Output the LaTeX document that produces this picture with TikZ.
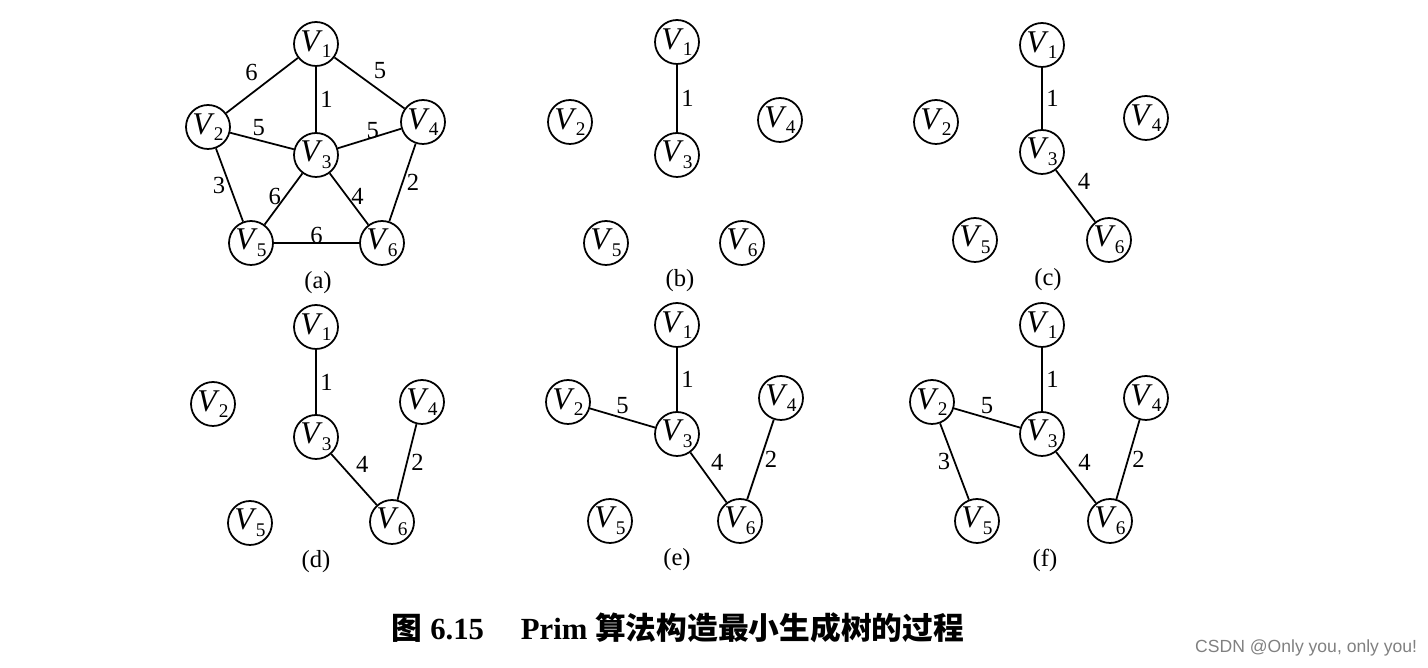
\documentclass[tikz,border=0pt]{standalone}
\usepackage{fontspec}
\setmainfont{Liberation Serif}
\newfontfamily\cjk{Noto Sans CJK SC}
\newfontfamily\wmark{Liberation Sans}
\usetikzlibrary{positioning}
\newcommand{\vname}[1]{\textit{V}\kern-0.5pt\raisebox{-0.45ex}{\fontsize{11}{11}\selectfont #1}}
\tikzset{vtx/.style={circle,draw=black,line width=1pt,minimum size=0.88cm,inner sep=0pt,font=\fontsize{18}{18}\selectfont}}
\tikzset{wt/.style={font=\fontsize{14}{14}\selectfont,inner sep=2pt}}
\tikzset{sublabel/.style={font=\fontsize{14}{14}\selectfont}}
\begin{document}
\begin{tikzpicture}[x=0.02cm,y=-0.02cm,line width=1pt]
\useasboundingbox (0,0) rectangle (1428,668);
% (a) the whole graph
\node (a1) [vtx] at (316,44) {\vname{1}};
\node (a2) [vtx] at (208,127) {\vname{2}};
\node (a3) [vtx] at (316,155) {\vname{3}};
\node (a4) [vtx] at (423,122) {\vname{4}};
\node (a5) [vtx] at (251,243) {\vname{5}};
\node (a6) [vtx] at (382,243) {\vname{6}};
\path (a1) edge node[wt,above left] {6} (a2);
\path (a1) edge node[wt,above right] {5} (a4);
\path (a1) edge node[wt,right] {1} (a3);
\path (a2) edge node[wt,above,pos=0.45] {5} (a3);
\path (a3) edge node[wt,above,pos=0.55,yshift=-3pt] {5} (a4);
\path (a2) edge node[wt,left] {3} (a5);
\path (a3) edge node[wt,left,pos=0.45] {6} (a5);
\path (a3) edge node[wt,right,pos=0.45] {4} (a6);
\path (a4) edge node[wt,right] {2} (a6);
\path (a5) edge node[wt,above,yshift=-3pt] {6} (a6);
\node (capa) [sublabel] at (318,283) {(a)};
%
% (b)
\node (b1) [vtx] at (677,42) {\vname{1}};
\node (b2) [vtx] at (570,122) {\vname{2}};
\node (b3) [vtx] at (677,155) {\vname{3}};
\node (b4) [vtx] at (780,120) {\vname{4}};
\node (b5) [vtx] at (606,243) {\vname{5}};
\node (b6) [vtx] at (742,243) {\vname{6}};
\path (b1) edge node[wt,right] {1} (b3);
\node (capb) [sublabel] at (680,281) {(b)};
%
% (c)
\node (c1) [vtx] at (1042,45) {\vname{1}};
\node (c2) [vtx] at (936,122) {\vname{2}};
\node (c3) [vtx] at (1042,152) {\vname{3}};
\node (c4) [vtx] at (1146,118) {\vname{4}};
\node (c5) [vtx] at (975,240) {\vname{5}};
\node (c6) [vtx] at (1109,240) {\vname{6}};
\path (c1) edge node[wt,right] {1} (c3);
\path (c3) edge node[wt,above right,pos=0.45] {4} (c6);
\node (capc) [sublabel] at (1048,280) {(c)};
%
% (d)
\node (d1) [vtx] at (316,327) {\vname{1}};
\node (d2) [vtx] at (213,404) {\vname{2}};
\node (d3) [vtx] at (316,437) {\vname{3}};
\node (d4) [vtx] at (422,402) {\vname{4}};
\node (d5) [vtx] at (250,523) {\vname{5}};
\node (d6) [vtx] at (392,522) {\vname{6}};
\path (d1) edge node[wt,right] {1} (d3);
\path (d3) edge node[wt,above right,pos=0.45] {4} (d6);
\path (d4) edge node[wt,right] {2} (d6);
\node (capd) [sublabel] at (316,562) {(d)};
%
% (e)
\node (e1) [vtx] at (677,325) {\vname{1}};
\node (e2) [vtx] at (568,402) {\vname{2}};
\node (e3) [vtx] at (677,434) {\vname{3}};
\node (e4) [vtx] at (781,398) {\vname{4}};
\node (e5) [vtx] at (610,521) {\vname{5}};
\node (e6) [vtx] at (740,521) {\vname{6}};
\path (e1) edge node[wt,right] {1} (e3);
\path (e2) edge node[wt,above,pos=0.5] {5} (e3);
\path (e3) edge node[wt,above right,pos=0.45] {4} (e6);
\path (e4) edge node[wt,right] {2} (e6);
\node (cape) [sublabel] at (677,560) {(e)};
%
% (f)
\node (f1) [vtx] at (1042,325) {\vname{1}};
\node (f2) [vtx] at (932,402) {\vname{2}};
\node (f3) [vtx] at (1042,434) {\vname{3}};
\node (f4) [vtx] at (1146,398) {\vname{4}};
\node (f5) [vtx] at (977,521) {\vname{5}};
\node (f6) [vtx] at (1110,521) {\vname{6}};
\path (f1) edge node[wt,right] {1} (f3);
\path (f2) edge node[wt,above,pos=0.5] {5} (f3);
\path (f2) edge node[wt,left] {3} (f5);
\path (f3) edge node[wt,above right,pos=0.45] {4} (f6);
\path (f4) edge node[wt,right] {2} (f6);
\node (capf) [sublabel] at (1045,560) {(f)};
%
\node (title) at (678,628) {\fontsize{17.5}{17.5}\selectfont\bfseries{\cjk 图}~6.15\hspace{1.2em}Prim~{\cjk 算法构造最小生成树的过程}};
\node (wm) [anchor=east,text=gray,inner sep=0pt] at (1418,648) {\wmark\fontsize{10}{10}\selectfont CSDN @Only you, only you!};
\end{tikzpicture}
\end{document}
